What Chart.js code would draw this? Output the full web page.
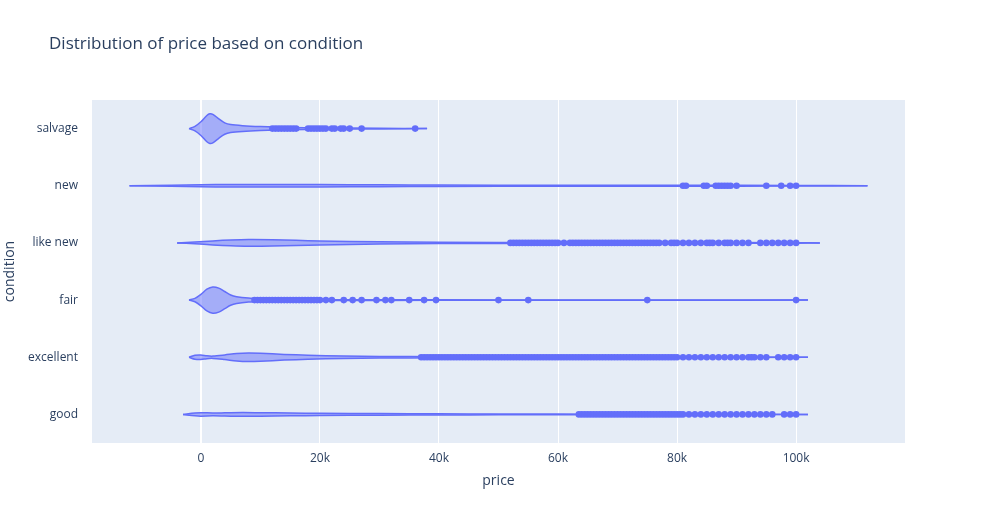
<!DOCTYPE html>
<html>
<head>
<meta charset="utf-8">
<script src="https://cdn.jsdelivr.net/npm/chart.js@4.4.0/dist/chart.umd.min.js"></script>
<style>
  html, body { margin: 0; padding: 0; background: #fff; }
  #wrap { width: 985px; height: 525px; }
</style>
</head>
<body>
<div id="wrap"><canvas id="c" width="985" height="525"></canvas></div>
<script>
// ===============================
// DATA (prices in thousands)
// ===============================
const categories = ['good', 'excellent', 'fair', 'like new', 'new', 'salvage'];
const xTicks = [0, 20, 40, 60, 80, 100];

// violin outlines: price and half-width (in category units)
const salvageX = [-2, -1, 0, 1, 1.5, 2, 3, 4, 5, 7, 10, 15, 20, 30, 38];
const salvageW = [0, 0.04, 0.12, 0.23, 0.26, 0.25, 0.17, 0.1, 0.07, 0.05, 0.035, 0.02, 0.012, 0.006, 0];
const newX = [-12, -5, 0, 5, 10, 20, 30, 40, 60, 80, 100, 112];
const newW = [0, 0.01, 0.018, 0.022, 0.024, 0.02, 0.016, 0.012, 0.01, 0.008, 0.005, 0];
const likeNewX = [-4, -1, 2, 5, 8, 12, 16, 20, 30, 40, 60, 80, 100, 104];
const likeNewW = [0, 0.015, 0.035, 0.05, 0.058, 0.055, 0.045, 0.035, 0.02, 0.012, 0.008, 0.006, 0.004, 0];
const fairX = [-2, -1, 0, 1, 2, 3, 4, 5, 6, 8, 10, 15, 20, 40, 60, 80, 102];
const fairW = [0, 0.03, 0.1, 0.19, 0.23, 0.21, 0.15, 0.09, 0.06, 0.035, 0.025, 0.012, 0.008, 0.004, 0.003, 0.003, 0];
const excellentX = [-2, -1, 0, 1, 2, 4, 6, 8, 10, 14, 18, 24, 30, 40, 60, 80, 102];
const excellentW = [0, 0.035, 0.04, 0.025, 0.02, 0.04, 0.065, 0.075, 0.07, 0.05, 0.035, 0.022, 0.015, 0.01, 0.007, 0.005, 0];
const goodX = [-3, -1, 0, 2, 4, 7, 10, 15, 20, 30, 40, 50, 60, 80, 102];
const goodW = [0, 0.025, 0.03, 0.025, 0.028, 0.033, 0.03, 0.025, 0.02, 0.014, 0.01, 0.008, 0.006, 0.004, 0];

// outlier points
const salvagePts = [12, 12.5, 13, 13.5, 14, 14.5, 15, 15.5, 16, 18, 18.5, 19, 19.5, 20, 20.5, 21, 22, 22.5, 23.5, 24, 25, 27, 36];
const newPts = [81, 81.5, 84.5, 85, 86.5, 87, 87.5, 88, 88.5, 89, 90, 95, 97.5, 99, 100];
const likeNewPts = [52, 52.5, 53, 53.5, 54, 54.5, 55, 55.5, 56, 56.5, 57, 57.5, 58, 58.5, 59, 59.5, 60, 61, 62, 62.5, 63, 63.5, 64, 64.5, 65, 65.5, 66, 66.5, 67, 67.5, 68, 68.5, 69, 69.5, 70, 70.5, 71, 71.5, 72, 72.5, 73, 73.5, 74, 74.5, 75, 75.5, 76, 76.5, 77, 78, 79, 79.5, 80, 81, 82, 83, 84, 85, 85.5, 86, 87, 88, 88.5, 89, 90, 91, 92, 94, 95, 96, 97, 98, 99, 100];
const fairPts = [9, 9.5, 10, 10.5, 11, 11.5, 12, 12.5, 13, 13.5, 14, 14.5, 15, 15.5, 16, 16.5, 17, 17.5, 18, 18.5, 19, 19.5, 20, 21, 22, 24, 25.5, 27, 29.5, 31, 32, 35, 37.5, 39.5, 50, 55, 75, 100];
const excellentPts = [37, 37.5, 38, 38.5, 39, 39.5, 40, 40.5, 41, 41.5, 42, 42.5, 43, 43.5, 44, 44.5, 45, 45.5, 46, 46.5, 47, 47.5, 48, 48.5, 49, 49.5, 50, 50.5, 51, 51.5, 52, 52.5, 53, 53.5, 54, 54.5, 55, 55.5, 56, 56.5, 57, 57.5, 58, 58.5, 59, 59.5, 60, 60.5, 61, 61.5, 62, 62.5, 63, 63.5, 64, 64.5, 65, 65.5, 66, 66.5, 67, 67.5, 68, 68.5, 69, 69.5, 70, 70.5, 71, 71.5, 72, 72.5, 73, 73.5, 74, 74.5, 75, 75.5, 76, 76.5, 77, 77.5, 78, 78.5, 79, 79.5, 80, 81, 82, 83, 84, 85, 86, 87, 88, 89, 90, 91, 92, 92.5, 93, 94, 95, 97, 98, 99, 100];
const goodPts = [63.5, 64, 64.5, 65, 65.5, 66, 66.5, 67, 67.5, 68, 68.5, 69, 69.5, 70, 70.5, 71, 71.5, 72, 72.5, 73, 73.5, 74, 74.5, 75, 75.5, 76, 76.5, 77, 77.5, 78, 78.5, 79, 79.5, 80, 80.5, 81, 82, 83, 84, 85, 86, 87, 88, 89, 90, 91, 92, 93, 94, 95, 96, 98, 99, 100];

// ===============================
// BUILD DATASETS
// ===============================
const COLOR = '#636efa';
const FILL = 'rgba(99,110,250,0.5)';
const violins = [
  [goodX, goodW, goodPts],
  [excellentX, excellentW, excellentPts],
  [fairX, fairW, fairPts],
  [likeNewX, likeNewW, likeNewPts],
  [newX, newW, newPts],
  [salvageX, salvageW, salvagePts]
];

const datasets = [];
violins.forEach(([xs, ws, pts], i) => {
  datasets.push({
    data: xs.map((x, j) => ({ x, y: i + ws[j] })),
    showLine: true, borderColor: COLOR, borderWidth: 1.5, pointRadius: 0, fill: false, tension: 0.3
  });
  datasets.push({
    data: xs.map((x, j) => ({ x, y: i - ws[j] })),
    showLine: true, borderColor: COLOR, borderWidth: 1.5, pointRadius: 0, fill: '-1', backgroundColor: FILL, tension: 0.3
  });
  datasets.push({
    data: pts.map(x => ({ x, y: i })),
    showLine: false, pointRadius: 3.3, pointBackgroundColor: COLOR, pointBorderWidth: 0
  });
});

// ===============================
// PLUGINS
// ===============================
const FONT = '"Open Sans", "Noto Sans", sans-serif';
const decor = {
  id: 'decor',
  beforeDraw(c) {
    const { ctx, chartArea: a } = c;
    ctx.save();
    ctx.fillStyle = '#e5ecf6';
    ctx.fillRect(a.left, a.top, a.right - a.left, a.bottom - a.top);
    ctx.restore();
  },
  afterDraw(c) {
    const { ctx, chartArea: a } = c;
    ctx.save();
    ctx.fillStyle = '#2a3f5f';
    ctx.font = '17px ' + FONT;
    ctx.textBaseline = 'middle';
    ctx.fillText('Distribution of price based on condition', 49, 44);
    ctx.font = '14px ' + FONT;
    ctx.textAlign = 'center';
    ctx.fillText('price', (a.left + a.right) / 2, 481);
    ctx.translate(10, (a.top + a.bottom) / 2);
    ctx.rotate(-Math.PI / 2);
    ctx.fillText('condition', 0, 0);
    ctx.restore();
  }
};

new Chart(document.getElementById('c'), {
  type: 'scatter',
  data: { datasets },
  plugins: [decor],
  options: {
    responsive: false,
    animation: false,
    layout: { padding: { top: 100, right: 80, left: 0, bottom: 0 } },
    plugins: { legend: { display: false }, tooltip: { enabled: false } },
    scales: {
      x: {
        type: 'linear', min: -18.3, max: 118.3,
        afterBuildTicks: s => { s.ticks = xTicks.map(v => ({ value: v })); },
        afterFit: s => { s.height = 82; },
        border: { display: false },
        grid: { color: '#ffffff', lineWidth: ctx => ctx.tick && ctx.tick.value === 0 ? 2 : 1, drawTicks: false },
        ticks: { color: '#2a3f5f', font: { size: 12, family: FONT }, padding: 8,
                 callback: v => v === 0 ? '0' : v + 'k' }
      },
      y: {
        type: 'linear', min: -0.5, max: 5.5,
        afterBuildTicks: s => { s.ticks = categories.map((_, i) => ({ value: i })); },
        afterFit: s => { s.width = 92; },
        border: { display: false },
        grid: { display: false },
        ticks: { color: '#2a3f5f', font: { size: 12, family: FONT }, padding: 6,
                 callback: v => categories[v] }
      }
    }
  }
});
</script>
</body>
</html>
